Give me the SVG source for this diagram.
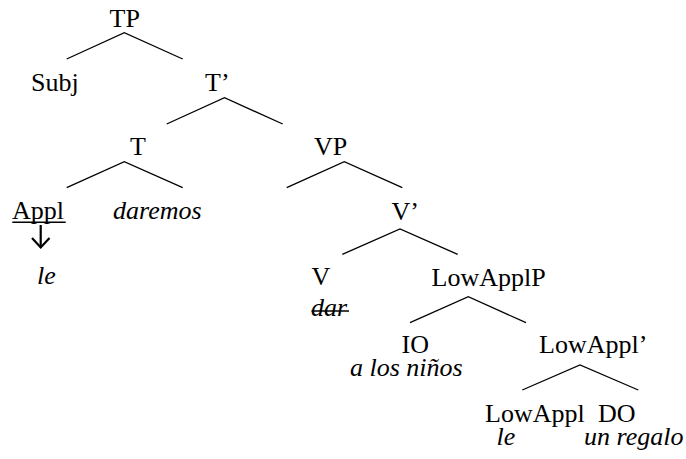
<svg xmlns="http://www.w3.org/2000/svg" width="686" height="459" viewBox="0 0 686 459">
<style>
  text { font-family: "Liberation Serif", "Times New Roman", serif; font-size: 26px; fill: #000; }
  .it { font-style: italic; }
  .edge { stroke: #000; stroke-width: 1.3; fill: none; }
  .mark { stroke: #000; fill: none; }
</style>
<rect width="686" height="459" fill="#fff"/>
<g id="connectors">
  <polyline class="edge" points="66.7,59 124.3,32.7 182.7,59"/>
  <polyline class="edge" points="166.7,124 224.5,97.7 282.7,124"/>
  <polyline class="edge" points="66.7,187.7 124.3,161.7 182.7,187.7"/>
  <polyline class="edge" points="286.7,187.7 344.3,161.7 402.3,187.7"/>
  <polyline class="edge" points="342.3,254.3 400,229 457.7,254.3"/>
  <polyline class="edge" points="410,322.7 468.3,296.7 526,322.7"/>
  <polyline class="edge" points="522.3,390 580,365 638.3,390"/>
</g>
<g id="TP"><text x="109.5" y="27">TP</text></g>
<g id="Subj"><text x="31" y="91">Subj</text></g>
<g id="Tbar"><text x="205" y="91">T’</text></g>
<g id="T"><text x="130" y="155">T</text></g>
<g id="VP"><text x="314" y="155">VP</text></g>
<g id="Appl">
  <text x="12" y="219">Appl</text>
  <line class="mark" x1="12.3" y1="222.3" x2="65.7" y2="222.3" stroke-width="1.5"/>
  <line class="mark" x1="40.7" y1="225" x2="40.7" y2="247.5" stroke-width="2.2"/>
  <polyline class="mark" points="32,238 40.7,247.5 49.5,238" stroke-width="2.2"/>
  <text class="it" x="37" y="284">le</text>
</g>
<g id="daremos"><text class="it" x="113" y="219">daremos</text></g>
<g id="Vbar"><text x="391.5" y="220">V’</text></g>
<g id="V">
  <text x="311.5" y="285">V</text>
  <text class="it" x="311" y="315.5">dar</text>
  <line class="mark" x1="311.5" y1="311" x2="349" y2="311" stroke-width="1.3"/>
</g>
<g id="LowApplP"><text x="431.5" y="286">LowApplP</text></g>
<g id="IO">
  <text x="401.5" y="352.7">IO</text>
  <text class="it" x="350" y="376">a los niños</text>
</g>
<g id="LowApplbar"><text x="539" y="352.7">LowAppl’</text></g>
<g id="LowAppl">
  <text x="485" y="421.7">LowAppl</text>
  <text class="it" x="496.5" y="445">le</text>
</g>
<g id="DO">
  <text x="598" y="421.7">DO</text>
  <text class="it" x="584" y="445">un regalo</text>
</g>
</svg>
